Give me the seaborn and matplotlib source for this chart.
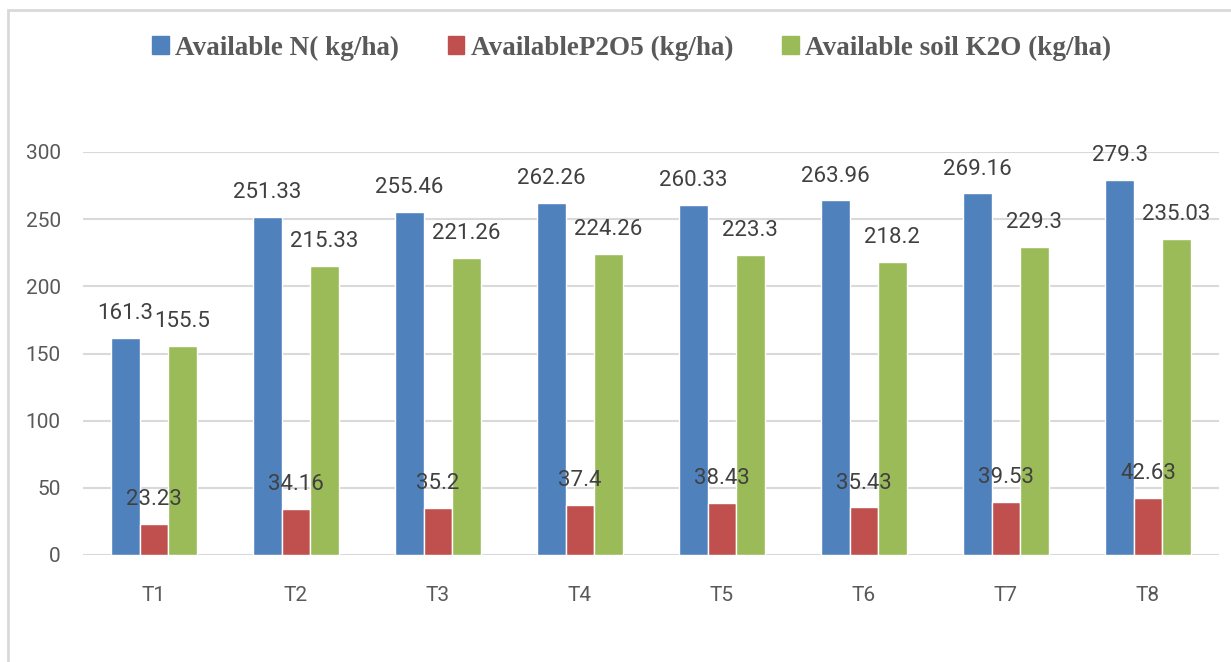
import pandas as pd
import numpy as np
import seaborn as sns
import matplotlib.pyplot as plt
import matplotlib.patches as mpatches

# data
treatments = ["T1", "T2", "T3", "T4", "T5", "T6", "T7", "T8"]
available_n = [161.3, 251.33, 255.46, 262.26, 260.33, 263.96, 269.16, 279.3]
available_p2o5 = [23.23, 34.16, 35.2, 37.4, 38.43, 35.43, 39.53, 42.63]
available_k2o = [155.5, 215.33, 221.26, 224.26, 223.3, 218.2, 229.3, 235.03]
series_names = ["Available N( kg/ha)", "AvailableP2O5 (kg/ha)", "Available soil K2O (kg/ha)"]
colors = ["#4F81BD", "#C0504D", "#9BBB59"]

df = pd.DataFrame({
    "treatment": treatments * 3,
    "value": available_n + available_p2o5 + available_k2o,
    "series": [series_names[0]] * 8 + [series_names[1]] * 8 + [series_names[2]] * 8,
})

sns.set_style("white")
plt.rcParams["font.family"] = ["Roboto", "DejaVu Sans"]

fig = plt.figure(figsize=(12.31, 6.62), dpi=100)
ax = fig.add_axes([83 / 1231, 1 - 555 / 662, (1219 - 83) / 1231, (555 - 152) / 662])

sns.barplot(data=df, x="treatment", y="value", hue="series", palette=colors,
            width=0.6, gap=0, saturation=1, ax=ax, legend=False)

for cont in ax.containers:
    ax.bar_label(cont, fmt="%g", padding=10, fontsize=16, color="#404040")

ax.set_ylim(0, 300)
ax.set_yticks(range(0, 301, 50))
ax.set_xlim(-0.5, 7.5)
ax.set_xlabel("")
ax.set_ylabel("")
ax.grid(axis="y", color="#D9D9D9", linewidth=1.5)
ax.set_axisbelow(True)
for s in ax.spines.values():
    s.set_visible(False)
ax.tick_params(axis="both", length=0, labelsize=15, labelcolor="#595959")
ax.tick_params(axis="x", pad=22)
ax.tick_params(axis="y", pad=16)

# legend
handles = [mpatches.Patch(color=c, label=n) for c, n in zip(colors, series_names)]
fig.legend(handles=handles, loc="center", bbox_to_anchor=(632 / 1231, 1 - 48 / 662),
           ncol=3, frameon=False, handlelength=0.6, handleheight=0.6,
           handletextpad=0.25, columnspacing=1.8,
           prop={"family": "Liberation Serif", "weight": "bold", "size": 19.5},
           labelcolor="#595959")

# outer chart frame
frame = mpatches.Rectangle((8 / 1231, -0.05), 1.1, 1 - 10 / 662 + 0.05,
                           transform=fig.transFigure, fill=False,
                           edgecolor="#D9D9D9", linewidth=2)
fig.patches.append(frame)

fig.savefig("out.png", dpi=100)
